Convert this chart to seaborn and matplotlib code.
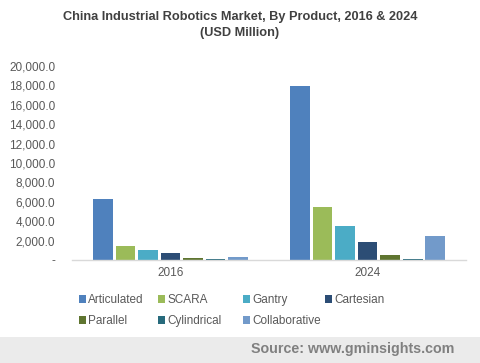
import pandas as pd
import matplotlib.pyplot as plt
import seaborn as sns
from matplotlib.patches import Rectangle
from matplotlib.ticker import FuncFormatter

# Data (USD Million)
years = ['2016', '2024']
products = ['Articulated', 'SCARA', 'Gantry', 'Cartesian',
            'Parallel', 'Cylindrical', 'Collaborative']
values_2016 = [6250, 1450, 1050, 720, 220, 100, 250]
values_2024 = [17900, 5450, 3500, 1850, 520, 120, 2450]
colors = ['#4f81bd', '#9bbb59', '#4bacc6', '#2c4d75',
          '#5f7530', '#276a7c', '#729aca']

df = pd.DataFrame({
    'year': [years[0]] * len(products) + [years[1]] * len(products),
    'product': products * 2,
    'value': values_2016 + values_2024,
})

sns.set_style('white')
plt.rcParams['font.family'] = ['Liberation Sans', 'DejaVu Sans']

fig = plt.figure(figsize=(4.8, 3.63), dpi=100)
ax = fig.add_axes([0.15, 0.284, 0.821, 0.534])

sns.barplot(data=df, x='year', y='value', hue='product', hue_order=products,
            palette=colors, width=0.8, gap=0.12, saturation=1, ax=ax,
            legend=True, errorbar=None, linewidth=0)

ax.set_ylim(0, 20000)
ax.set_yticks(range(0, 20001, 2000))
ax.yaxis.set_major_formatter(FuncFormatter(lambda v, p: '-' if v == 0 else f'{v:,.1f}'))
ax.set_xlabel('')
ax.set_ylabel('')
ax.tick_params(axis='both', labelsize=8.5, colors='#595959', length=0)
ax.tick_params(axis='y', pad=12)
ax.tick_params(axis='x', pad=5)
for side in ['top', 'right', 'left']:
    ax.spines[side].set_visible(False)
ax.spines['bottom'].set_color('#d9d9d9')
ax.spines['bottom'].set_linewidth(1)

fig.text(0.5, 0.932, 'China Industrial Robotics Market, By Product, 2016 & 2024\n(USD Million)',
         ha='center', va='center', fontsize=9.2, fontweight='bold', color='#404040',
         linespacing=1.45)

# legend: one small legend per column so spacing matches the original
handles, labels = ax.get_legend_handles_labels()
ax.legend_.remove()
col_x = [0.164, 0.329, 0.506, 0.677]
for c, x in enumerate(col_x):
    idx = [i for i in (c, c + 4) if i < len(handles)]
    leg = fig.legend([handles[i] for i in idx], [labels[i] for i in idx],
                     loc='upper left', bbox_to_anchor=(x, 0.189),
                     ncol=1, frameon=False, fontsize=8.5, handlelength=0.6,
                     handleheight=0.6, handletextpad=0.2, labelspacing=0.75,
                     borderpad=0, borderaxespad=0, labelcolor='#595959')

# Source footer band
fig.patches.append(Rectangle((0, 0), 1, 0.072, transform=fig.transFigure,
                             facecolor='#ebebeb', edgecolor='none', zorder=0))
fig.text(0.946, 0.038, 'Source: www.gminsights.com', ha='right', va='center',
         fontsize=10.3, fontweight='bold', color='#808080')

fig.savefig('out.png', dpi=100)
